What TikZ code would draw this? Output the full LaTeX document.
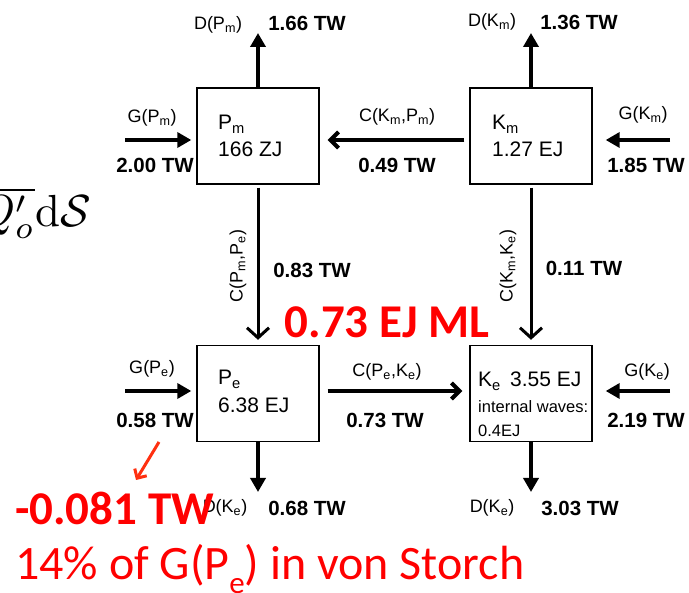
\documentclass[tikz,border=0pt]{standalone}
\usepackage{graphicx}
\usepackage{fontspec}
\usetikzlibrary{arrows.meta,calc}
\newfontfamily\labf{Liberation Sans}
\newfontfamily\redf{Carlito}
\definecolor{redtxt}{RGB}{255,0,0}
\definecolor{redarr}{RGB}{255,48,16}
\tikzset{
  bx/.style={draw, line width=1.4pt, minimum width=122pt, minimum height=96pt, inner sep=0pt},
  thk/.style={line width=4pt, -{Triangle[length=14pt,width=15pt]}},
  cflow/.style={line width=4pt, -{Straight Barb[length=8pt,width=16pt]}},
  vflow/.style={line width=3pt, -{Straight Barb[length=10pt,width=22pt]}},
  lab/.style={font=\labf\fontsize{18}{18}\selectfont, inner sep=0pt},
  val/.style={font=\labf\bfseries\fontsize{20.5}{20.5}\selectfont, inner sep=0pt},
  boxt/.style={font=\labf\fontsize{21}{21}\selectfont, inner sep=0pt, anchor=base west},
  smallt/.style={font=\labf\fontsize{16.5}{16.5}\selectfont, inner sep=0pt, anchor=base west},
  redb/.style={font=\redf\bfseries\fontsize{47}{47}\selectfont, text=redtxt, inner sep=0pt},
  redr/.style={font=\redf\fontsize{48}{48}\selectfont, text=redtxt, inner sep=0pt},
  rarrow/.style={draw=redarr, line width=3pt, -{Straight Barb[length=7pt,width=14pt]}},
}
\begin{document}
\begin{tikzpicture}[x=1pt,y=-1pt]
\path[use as bounding box] (0,0) rectangle (689,593);
\begin{scope}
\clip (0,0) rectangle (689,593);
\node[anchor=base east, inner sep=0pt, font=\fontsize{10}{10}\selectfont] (mathfrag) at (91,227) {\scalebox{4.5}{$\overline{Q'_o}\mathrm{d}\mathcal{S}$}};
\end{scope}
% boxes
\node[bx] (Pm) at (258,136) {};
\node[bx] (Km) at (531,136) {};
\node[bx] (Pe) at (258,393.5) {};
\node[bx] (Ke) at (531,393.5) {};
% box texts
\node[boxt] (pmA) at (218,130) {P\textsubscript{m}};
\node[boxt] (pmB) at (218,157) {166 ZJ};
\node[boxt] (kmA) at (492,130) {K\textsubscript{m}};
\node[boxt] (kmB) at (492,157) {1.27 EJ};
\node[boxt] (peA) at (218,385) {P\textsubscript{e}};
\node[boxt] (peB) at (218,413) {6.38 EJ};
\node[boxt] (keA) at (478,387) {K\textsubscript{e}\, 3.55 EJ};
\node[smallt] (keB) at (478,413) {internal waves:};
\node[smallt] (keC) at (478,437) {0.4EJ};
% free ends
\coordinate (dpm) at (258,33);
\coordinate (dkm) at (531,33);
\coordinate (dpe) at (258,492);
\coordinate (dke) at (531,492);
\coordinate (gpm) at (125,140);
\coordinate (gkm) at (670,140);
\coordinate (gpe) at (125,391);
\coordinate (gke) at (670,391);
% arrows
\draw[thk] (Pm.north) -- (dpm);
\draw[thk] (Km.north) -- (dkm);
\draw[thk] (Pe.south) -- (dpe);
\draw[thk] (Ke.south) -- (dke);
\draw[thk, shorten >=5pt] (gpm) -- (gpm -| Pm.west);
\draw[thk, shorten >=13pt] (gkm) -- (gkm -| Km.east);
\draw[thk, shorten >=5pt] (gpe) -- (gpe -| Pe.west);
\draw[thk, shorten >=13pt] (gke) -- (gke -| Ke.east);
\draw[cflow, shorten <=5pt, shorten >=8pt] ([yshift=-4pt]Km.west) -- ([yshift=-4pt]Pm.east);
\draw[cflow, shorten <=8pt, shorten >=7pt] ([yshift=2.5pt]Pe.east) -- ([yshift=2.5pt]Ke.west);
\draw[vflow, shorten <=3pt, shorten >=5pt] (Pm.south) -- (Pe.north);
\draw[vflow, shorten <=3pt, shorten >=5pt] (Km.south) -- (Ke.north);
% labels
\node[lab] (l1) at (218,25) {D(P\textsubscript{m})};
\node[val] (v1) at (307,23) {1.66 TW};
\node[lab] (l2) at (492,22) {D(K\textsubscript{m})};
\node[val] (v2) at (579,22) {1.36 TW};
\node[lab] (l3) at (152,118) {G(P\textsubscript{m})};
\node[val] (v3) at (155,165) {2.00 TW};
\node[lab] (l4) at (397,117) {C(K\textsubscript{m},P\textsubscript{m})};
\node[val] (v4) at (397,165) {0.49 TW};
\node[lab] (l5) at (643,115) {G(K\textsubscript{m})};
\node[val] (v5) at (646,165) {1.85 TW};
\node[lab] (l6) at (152,369) {G(P\textsubscript{e})};
\node[val] (v6) at (155,420) {0.58 TW};
\node[lab] (l7) at (387,372) {C(P\textsubscript{e},K\textsubscript{e})};
\node[val] (v7) at (385,420) {0.73 TW};
\node[lab] (l8) at (647,372) {G(K\textsubscript{e})};
\node[val] (v8) at (646,420) {2.19 TW};
\node[lab] (l9) at (225,508) {D(K\textsubscript{e})};
\node[val] (v9) at (307,508) {0.68 TW};
\node[lab] (l10) at (492,508) {D(K\textsubscript{e})};
\node[val] (v10) at (580,508) {3.03 TW};
\node[lab, rotate=90] (l11) at (238,266) {C(P\textsubscript{m},P\textsubscript{e})};
\node[val] (v11) at (312,270) {0.83 TW};
\node[lab, rotate=90] (l12) at (508,266) {C(K\textsubscript{m},K\textsubscript{e})};
\node[val] (v12) at (584,268) {0.11 TW};
% red annotations
\node[redb] (ml) at (387,322) {0.73 EJ ML};
\coordinate (ra1) at (159,442);
\coordinate (ra2) at (136,480);
\draw[rarrow] (ra1) -- (ra2);
\node[redb, anchor=base west] (neg) at (15,525) {-0.081 TW};
\node[redr, anchor=base west] (pct) at (15,580) {14\% of G(P\raisebox{-14pt}{\fontsize{31}{31}\selectfont e}) in von Storch};
\end{tikzpicture}
\end{document}
